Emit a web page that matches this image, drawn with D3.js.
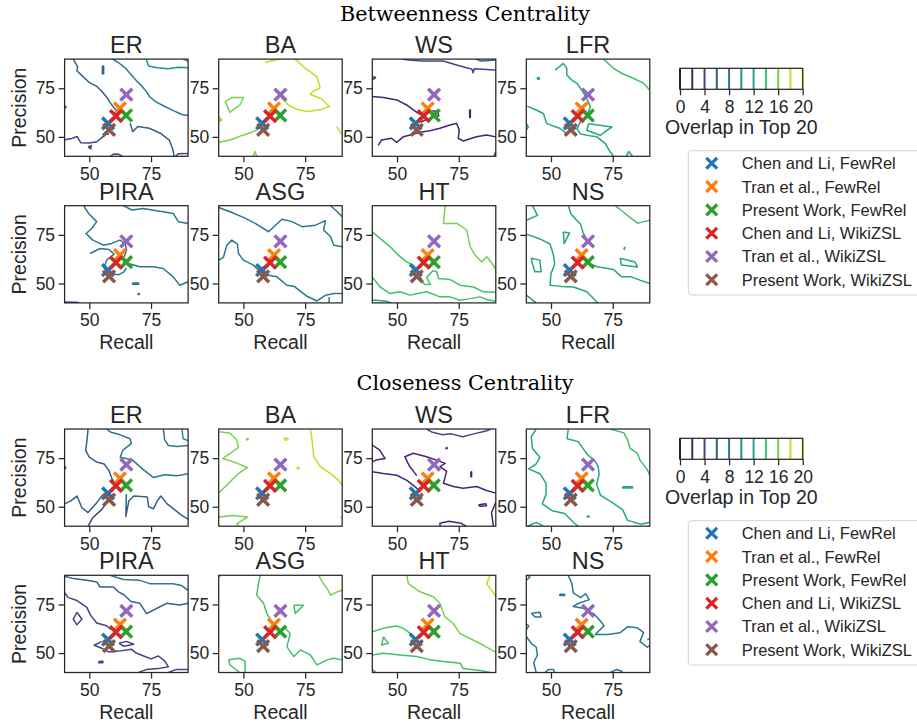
<!DOCTYPE html>
<html>
<head>
<meta charset="utf-8">
<script src="https://cdn.jsdelivr.net/npm/d3@7"></script>
<style>
  body { margin: 0; background: #fff; }
  svg text { font-family: "Liberation Sans", Arial, sans-serif; fill: #262626; }
  svg text.suptitle { font-family: "DejaVu Serif", "Liberation Serif", serif; fill: #000; }
</style>
</head>
<body>
<div id="chart"></div>
<script>
// ---- data ----
const networks = ["ER", "BA", "WS", "LFR", "PIRA", "ASG", "HT", "NS"];
const methods = ["Chen and Li, FewRel", "Tran et al., FewRel", "Present Work, FewRel",
                 "Chen and Li, WikiZSL", "Tran et al., WikiZSL", "Present Work, WikiZSL"];
const recall = [57.6, 62.4, 64.9, 60.8, 65.0, 58.0];
const precision = [56.9, 64.6, 61.0, 60.7, 71.7, 53.6];
const axisTicks = [50, 75];
const axisRange = [40, 90];
const levels = [0, 2, 4, 6, 8, 10, 12, 14, 16, 18, 20];
const levelTicks = [0, 4, 8, 12, 16, 20];

// contour lines per panel: z = overlap level, p = [recall, precision] points
const betweenness_ER = [
  {z: 4, p: [[40,48.5],[43,49.2],[45,50.2],[46.5,47],[50,46.8],[53,47.5],[55,49.5],[56.5,51.3],[58,51.5]]},
  {z: 4, p: [[49.5,44.8],[50.8,45.5],[50.6,43.8],[49.5,44.8]]},
  {z: 4, p: [[58.5,40],[60,41.2],[62,41],[63.5,40]]},
  {z: 4, p: [[85,40],[86,41.3],[90,41.5]]},
  {z: 4, p: [[40,66],[40.6,65.3],[40,64.6]]},
  {z: 6, p: [[43.5,90],[45.3,86],[45,84],[47,81.5],[50,78],[53,76],[55,73.5],[57,70.5],[58.5,67.5],[60,65],[61.5,63]]},
  {z: 6, p: [[66.5,57],[67.6,52.7],[69.6,55.3],[74.3,54.4],[79,51.7],[82.4,48.3],[83.7,44],[84.4,40]]},
  {z: 6, p: [[55.3,86.5],[55.8,86.5],[55.8,82.5],[55.3,82.5],[55.3,86.5]]},
  {z: 8, p: [[59.5,90],[62,88],[64.5,85.5],[67,82],[69,79],[71,76.5],[73,73.5],[74.5,70.5],[77,68],[80,66],[84,63.5],[87.5,61.5],[90,61]]},
  {z: 10, p: [[73,90],[74,86.5],[77.5,85.5],[82,85],[86,85.8],[90,85.5]]},
  {z: 10, p: [[88,90],[90,88.8]]}
];
const betweenness_BA = [
  {z: 16, p: [[42.6,68.1],[45.3,70.2],[50,70.2],[48.6,66.4],[46.6,64.7],[44.6,62.6],[42.6,68.1]]},
  {z: 16, p: [[40,60.4],[41.2,58.7],[40,57.9]]},
  {z: 16, p: [[40,47.2],[44.6,48.4],[50,51],[53.4,52.4],[55.4,53.6]]},
  {z: 16, p: [[54,40],[54.7,42.5],[55.4,40]]},
  {z: 18, p: [[58.8,88.3],[62.8,89.5],[64.8,90]]},
  {z: 18, p: [[70.9,90],[72.9,87.8],[75,85.3],[77,83.5],[79.7,81],[80.8,76.7],[81,75],[78.3,73.6],[77,71.9],[81.7,69.5],[84.8,65.6],[81,63.9],[75.6,63],[71.6,64.2],[68.2,66.4],[65.5,69.8]]},
  {z: 18, p: [[87.8,55.3],[89.1,52.7],[90,51]]}
];
const betweenness_WS = [
  {z: 2, p: [[40,70.7],[44.5,70.2],[49.9,69],[53.9,66.4],[56.6,63.9],[59.3,61.6],[61,62.5],[63.3,63.3],[66.4,63.3],[66.9,60.9],[64.7,59.9],[62,59],[59.5,57.5]]},
  {z: 2, p: [[42.4,45.6],[43.8,48.4],[47.8,49.3],[49.9,47.2],[52.6,50.1],[55.3,51],[59.3,52.4],[63.3,53.1],[67.4,54.4],[70.8,55.8],[74.1,57],[75.2,53.6],[74.8,49.3],[76.8,47.9],[82.2,50.1],[86.3,51],[90,50]]},
  {z: 2, p: [[89.3,40],[90,42.5]]},
  {z: 2, p: [[79.4,64],[79.7,64],[79.7,60],[79.4,60],[79.4,64]]},
  {z: 2, p: [[40,81],[41.3,80.5],[40,79.3]]},
  {z: 4, p: [[52,90],[54.6,89.5],[60.6,89],[68.7,89],[74.1,87],[78.9,85.3],[80.3,84.9],[80.8,83],[81.3,85],[82.9,84.9],[89.7,84.4],[90,84.4]]},
  {z: 6, p: [[82,90],[84,89],[90,89.5]]}
];
const betweenness_LFR = [
  {z: 12, p: [[51.7,84.3],[55,87.8],[56.4,85.2],[56.4,81.8],[58.4,79.2],[60.5,77.5],[62.5,74],[64.5,69.7],[65.9,65.4],[64.5,61],[62,58],[60.5,54],[62,51.5],[66,50.5],[68.6,50],[72,46.5],[74,42.2],[75.4,40]]},
  {z: 12, p: [[40.4,65.8],[44.2,63.7],[46.9,62],[48.3,56.8],[53.7,54.3],[56.4,51.7]]},
  {z: 12, p: [[65.2,56.8],[74.7,55.1],[69.9,50.8],[64.5,53.4],[65.2,56.8]]},
  {z: 12, p: [[44.5,80.6],[45.3,80.4],[45.2,79.6],[44.5,79.7],[44.5,80.6]]},
  {z: 12, p: [[80.5,40],[81.5,42.5],[83,40]]},
  {z: 12, p: [[40,57],[40.8,55],[40,53.5]]},
  {z: 14, p: [[71.3,90],[75.4,85.2],[78.8,82.6],[83.5,80],[87.6,77.5],[90,74]]}
];
const betweenness_PIRA = [
  {z: 8, p: [[47.7,90],[49.7,86],[53,81.8],[51,78.3],[48.7,75.7],[51.4,72.3],[55.7,69.7],[59.1,70.6],[62.4,72.3],[64.5,70.6],[65.1,67.1],[63.8,62.9],[65.8,60.3],[70.5,58.6],[75.9,58.6],[79.9,57.7],[84,53.4],[86.6,49.1],[90,50.9]]},
  {z: 8, p: [[50.3,65.4],[54.4,68],[58,67.5],[60,65],[57,62],[56,58],[58.5,55],[62,54.5],[64,56],[65,58]]},
  {z: 8, p: [[63.8,90],[67.2,87.8],[71.9,88.6],[77.2,87.4],[79.9,86.9],[84,86],[86,81.8],[90,80.9]]},
  {z: 8, p: [[67.5,50.2],[70,50.2],[70,49.6],[67.5,49.6],[67.5,50.2]]},
  {z: 8, p: [[69.7,44.8],[70.3,44.8],[70.3,44.3],[69.7,44.3],[69.7,44.8]]},
  {z: 6, p: [[40,40.4],[45,40.3],[46,40]]}
];
const betweenness_ASG = [
  {z: 8, p: [[40,89.1],[44.6,86.9],[50,84],[54.8,80.9],[60.2,76.6],[65.6,83],[69.7,81.8],[73.7,79.2],[79.2,80],[83.2,82.3],[82.5,77.5],[85.3,74],[86.6,69.7],[90,68.9]]},
  {z: 8, p: [[85.3,90],[88,86.9],[90,84.3]]},
  {z: 8, p: [[40,62],[41.9,63.4],[43.3,69.7],[45.3,72.3],[47.6,70.2],[48,65.4],[50,62],[54.1,59.4],[56.1,56.8],[58.2,58.6],[57.5,56],[59.5,54.3],[63.6,53.4],[67.6,49.1],[70.4,48.6],[75.8,43.4],[79.8,41],[83.2,43.9],[86.6,44.8],[90,44.8]]},
  {z: 8, p: [[84.6,40],[84.8,43]]}
];
const betweenness_HT = [
  {z: 14, p: [[40,76.6],[43.1,73.2],[47.2,68.9],[50.5,64.6],[53.9,61.1],[56.6,59.4],[58.6,56],[60,52],[61,49.5],[63.5,49.5],[62,53],[64.5,56.5],[66.1,56],[66.8,52.5],[71.5,52],[75.5,49.1],[80.9,48.2],[85,45.7],[90,45.5]]},
  {z: 14, p: [[40,53.4],[43.1,48.2],[47.2,44.8],[51.2,45.7],[55.3,44],[62,45.7],[67.4,43.1],[71.5,43.1],[75.5,41.4],[79.6,42.2],[83.6,43.1],[87,41.5],[90,40.8]]},
  {z: 16, p: [[69.5,90],[68.8,80.9],[74.2,80.9],[78.2,77.5],[79.6,68.9],[81.6,64.6],[84.3,61.1],[86.4,63.7],[89,59.4],[90,56.8]]},
  {z: 12, p: [[40,41.5],[45,41],[48,40]]}
];
const betweenness_NS = [
  {z: 12, p: [[40,82.5],[44.5,85],[42.5,90]]},
  {z: 12, p: [[40,75.4],[45.5,72.9],[49.6,70.3],[50.9,65.2],[51.5,60],[50,55],[49.6,49.1],[54,48.5],[59.1,48.2],[64.5,45.7],[68.6,40.5],[69,40]]},
  {z: 12, p: [[57,90],[58,86],[60,83],[62,80.5],[63,76],[64,74]]},
  {z: 12, p: [[66,60],[69,58.5],[72,58],[75.5,57],[78.5,53.5],[82.5,53.4],[86,51.7],[90,50]]},
  {z: 12, p: [[42,63],[45.5,62],[46,56],[43.5,56],[42.5,60],[42,63]]},
  {z: 12, p: [[55,76.5],[57.5,76],[55.3,70.5],[55,76.5]]},
  {z: 12, p: [[78,63],[84,61],[85,58.5],[78.5,59.5],[78,63]]},
  {z: 12, p: [[79.5,68.5],[79.9,68.5],[79.7,67.5],[79.5,68.5]]},
  {z: 14, p: [[76,90],[79,87],[82,84],[85,81],[87.5,81.8],[90,82.5]]},
  {z: 10, p: [[40,44],[42,42],[44,40]]}
];

const closeness_ER = [
  {z: 6, p: [[49.5,90],[49,83.5],[48.5,79],[50,75.5],[53,73],[56,72],[58,68.5],[59,65],[60,62.5]]},
  {z: 6, p: [[40,51.5],[42.5,53],[45,55.5],[47,49.5],[49.5,47],[53,52],[55,55.5],[57,57]]},
  {z: 6, p: [[65,56.5],[64.8,45],[66,53],[68,55.5],[73.5,55],[74,50],[76,49],[77.5,53],[79,55.5],[81.5,51.5],[84,49],[87,46],[90,43.5]]},
  {z: 4, p: [[49.5,40],[51.5,44.5],[55,48.5],[57,52]]},
  {z: 4, p: [[40,71],[40.6,69.5]]},
  {z: 8, p: [[57,90],[58.5,88.5],[62.5,87],[66.5,85],[67,82.5],[63.5,79],[62.5,75.5],[67.5,74],[72,69],[76,65],[80.5,66.5],[85.5,66],[90,67]]},
  {z: 8, p: [[80,90],[80.5,84.5],[82,81.5],[85.5,81],[90,81.5]]},
  {z: 10, p: [[87.5,90],[88,85],[90,84]]}
];
const closeness_BA = [
  {z: 16, p: [[40.5,88.6],[44.6,87.8],[47.3,84.3],[48,80.5],[44.6,77.4],[41.6,74.8],[46,73.1],[51.6,70.2],[48,67.1],[44.6,62.8],[40,57.1]]},
  {z: 16, p: [[40,44.7],[46,45.5],[51.6,44.7],[47.3,41.2],[48,40]]},
  {z: 16, p: [[51.2,85],[51.9,85],[51.9,84.5],[51.2,84.5],[51.2,85]]},
  {z: 18, p: [[66.3,84.8],[67.2,85.5],[68.1,84.8],[67.2,84.2],[66.3,84.8]]},
  {z: 18, p: [[71.5,69.9],[72.4,70.3],[72.6,69.4],[71.5,69.9]]},
  {z: 18, p: [[77.1,90],[77.8,84.3],[78.5,75.7],[81.2,70.5],[85.3,67.1],[88.6,63.6],[90,61]]},
  {z: 18, p: [[89.4,45],[90,44]]}
];
const closeness_WS = [
  {z: 2, p: [[40,81.7],[43,79.1],[45.2,74.8],[41.5,74],[40,73.1]]},
  {z: 2, p: [[40,68],[44.5,67.1],[49.9,66.2],[54,63.6],[56.6,61],[59,58.5]]},
  {z: 2, p: [[58,66],[55,71],[53.2,75.7],[56.6,77.5],[62,75.7],[66,74],[69.5,72.3],[67.4,70.7],[70.1,68.2],[68.8,62.1],[72.8,60.4],[76.8,59.5],[82.3,60.4],[86,58.5],[90,57]]},
  {z: 2, p: [[67.4,40],[67.4,41.5],[71,42.5],[76,41.5],[78,40]]},
  {z: 2, p: [[83,51],[86,51.5],[86.3,50.5],[83.5,50.3],[83,51]]},
  {z: 2, p: [[90,52.5],[88.3,47],[89,40]]},
  {z: 2, p: [[69.8,80.4],[70.3,80.4],[70.3,80],[69.8,80],[69.8,80.4]]},
  {z: 2, p: [[79.9,68],[80.2,68],[80.2,65.5],[79.9,65.5],[79.9,68]]},
  {z: 4, p: [[62,90],[64,88.5],[68.5,87],[72,87.5],[76.5,86],[81,87.5],[86,89],[88,90]]}
];
const closeness_LFR = [
  {z: 12, p: [[44,90],[42,86],[42.5,80],[45.5,75.5],[44,72],[41,69.5],[45.5,67],[48,62],[48,56.5],[46.5,51.5],[50.5,48],[55.5,46.5],[59.5,41.5],[61,40]]},
  {z: 12, p: [[57,90],[56.5,85],[61,83.5],[63.5,79],[65,76.5],[67.5,74],[69,71],[69.5,67],[68.5,61.5],[70,56],[75,52],[79,48.5],[81,43],[86.5,41],[90,42]]},
  {z: 12, p: [[79,60.3],[83,60.3],[83,59.7],[79,59.7],[79,60.3]]},
  {z: 12, p: [[64.7,45.3],[65.4,45.3],[65.4,44.7],[64.7,44.7],[64.7,45.3]]},
  {z: 12, p: [[40.5,40],[44,42],[47,40]]},
  {z: 14, p: [[74,90],[79.5,88],[81,84.5],[82,80],[85,77.5],[86,74],[89,69],[90,66]]}
];
const closeness_PIRA = [
  {z: 4, p: [[40,81],[41.5,78.5],[45,77],[49,73.5],[50.5,69.5],[53,65.5],[57,64],[59,62]]},
  {z: 4, p: [[55,56],[52,54],[55,52.5],[58,50.5],[62,51],[67,52],[69,50],[72,48.5],[75,47],[78,48.5],[80.5,46],[82,43],[78,42],[73,41.5],[70,40]]},
  {z: 4, p: [[82,40],[85,41.5],[90,41.5]]},
  {z: 4, p: [[45,71],[47,67.5],[45,64.5],[43.5,67.5],[45,71]]},
  {z: 4, p: [[53.8,45.6],[55.5,45.8],[55.5,45],[53.8,45],[53.8,45.6]]},
  {z: 4, p: [[62,55],[65,56],[68,54.5],[64,53.5],[62,55]]},
  {z: 6, p: [[40,89.5],[43.6,88.3],[49,87.4],[53,86.6],[54.4,84],[59.8,84],[61.8,81.5],[64,80],[66.9,76.5],[70.5,75.6],[73.2,70.3],[77.2,72.9],[81.3,75.6],[86.6,74.7],[90,75.6]]},
  {z: 8, p: [[58.4,90],[63.8,87.8],[70.5,87.4],[74.5,85.7],[78.6,85.7],[84,85.7],[87.3,84.8],[90,82.2]]}
];
const closeness_ASG = [
  {z: 14, p: [[56.8,90],[56.1,85.7],[55.4,79.8],[58.2,75.5],[59.5,70.4],[61.5,66.1]]},
  {z: 14, p: [[66.3,63.5],[69,60.1],[67.6,53.3],[70.4,48.2],[73.1,51.6],[77.1,49],[79.8,43.9],[83.9,46.5],[86.6,47.3],[90,46.5]]},
  {z: 14, p: [[70.4,74.6],[74.4,74.6],[71,70.4],[70.4,74.6]]},
  {z: 14, p: [[48.5,40],[44.5,44],[44,46.5],[48.7,47.3],[50.7,45.6],[50.7,40]]},
  {z: 14, p: [[40,89.2],[40.8,90]]},
  {z: 16, p: [[80.5,90],[81.9,86.6],[83.9,83.2],[85.3,79.8],[88,81.5],[90,82.3]]}
];
const closeness_HT = [
  {z: 16, p: [[54,90],[54.6,85.7],[59.3,81.5],[64.7,79],[67.4,75.5],[69.4,68.6],[72.8,65.2],[75.5,60],[79.6,57.5],[85,54],[89.7,50.6],[90,50.4]]},
  {z: 14, p: [[40,61],[45.8,63.2],[49.9,63.9],[52.6,62.7],[55.3,60.1],[57,57]]},
  {z: 14, p: [[44.5,58.4],[46.5,55],[43.8,54.2],[44.5,58.4]]},
  {z: 14, p: [[40,49],[44.5,49.9],[51.2,49],[58,48.2],[63.4,46.5],[68.9,45.6],[75.6,44.8],[76.8,42],[83.6,41],[87.7,40]]},
  {z: 12, p: [[40,41.5],[41.5,40]]},
  {z: 18, p: [[87.7,90],[86.3,85.7],[89.7,79.7],[90,79]]}
];
const closeness_NS = [
  {z: 8, p: [[57,90],[58.5,85.5],[59,81],[62,78.5],[64,80.5],[65.5,77.5],[61,75.5],[59,74],[63,73],[67.5,70],[70,66.5],[71.5,64],[69,61],[68,59.5],[73,59.5],[78,60.5],[81,63.5],[85,63],[87.5,60.5],[86,56],[89,53],[90,54]]},
  {z: 8, p: [[40,58.5],[42,55],[44,53],[44.5,49],[43,45],[44,40]]},
  {z: 8, p: [[40,87.5],[41.5,89],[40.5,90]]},
  {z: 8, p: [[40,65],[41,64],[40,62]]},
  {z: 8, p: [[42,70.5],[45.5,71],[46,68.5],[43.5,68.5],[42,70.5]]},
  {z: 8, p: [[53.5,80.2],[55.5,80.2],[55.5,79.6],[53.5,79.6],[53.5,80.2]]},
  {z: 8, p: [[47.5,40],[49,41.5],[51,41.5],[51.5,40]]},
  {z: 8, p: [[74,40],[76.5,41.5],[79,40.5]]},
  {z: 8, p: [[89,57],[90,57.3]]}
];

// tables built from the arrays above
const betweenness = [betweenness_ER, betweenness_BA, betweenness_WS, betweenness_LFR,
                     betweenness_PIRA, betweenness_ASG, betweenness_HT, betweenness_NS];
const closeness = [closeness_ER, closeness_BA, closeness_WS, closeness_LFR,
                   closeness_PIRA, closeness_ASG, closeness_HT, closeness_NS];

// ---- style / layout ----
const palette = ["#1f77b4", "#ff7f0e", "#2ca02c", "#d62728", "#9467bd", "#8c564b"];
const W = 917, H = 727;
const colLeft = [64.6, 218.7, 372.3, 526.3];
const panelW = 123.5, panelH = 97.2;
const groups = [
  {title: "Betweenness Centrality", titleY: 21, titleLen: 250, rows: [59.1, 205.7], cbTop: 68.3, legendTop: 150.7, data: betweenness},
  {title: "Closeness Centrality", titleY: 390, titleLen: 217, rows: [429, 575.3], cbTop: 438.3, legendTop: 520.7, data: closeness}
];

const levelColor = d3.scaleSequential(d3.interpolateViridis).domain([0, 20]);
const xMark = s => `M${-s},${-s}L${s},${s}M${-s},${s}L${s},${-s}`;
const edge = "#262626";

const svg = d3.select("#chart").append("svg")
  .attr("width", W).attr("height", H)
  .attr("viewBox", `0 0 ${W} ${H}`);

svg.append("defs").append("clipPath").attr("id", "panelClip")
  .append("rect").attr("width", panelW).attr("height", panelH);

const x = d3.scaleLinear().domain(axisRange).range([0, panelW]);
const y = d3.scaleLinear().domain(axisRange).range([panelH, 0]);
const line = d3.line().x(d => x(d[0])).y(d => y(d[1]));

function styleAxis(g) {
  g.select(".domain").remove();
  g.selectAll(".tick line").attr("stroke", edge).attr("stroke-width", 1.25);
  g.selectAll(".tick text").style("font-size", "17.5px");
}

function drawPanel(left, top, name, contours, showY, showX) {
  const g = svg.append("g").attr("transform", `translate(${left},${top})`);

  g.append("g").attr("clip-path", "url(#panelClip)")
    .selectAll("path").data(contours).join("path")
    .attr("d", c => line(c.p))
    .attr("fill", "none")
    .attr("stroke", c => levelColor(c.z))
    .attr("stroke-width", 1.5)
    .attr("stroke-linejoin", "round");

  g.append("g").selectAll("path").data(methods).join("path")
    .attr("transform", (d, i) => `translate(${x(recall[i])},${y(precision[i])})`)
    .attr("d", xMark(5.9))
    .attr("stroke", (d, i) => palette[i])
    .attr("stroke-width", 3.5)
    .attr("fill", "none");

  g.append("rect").attr("width", panelW).attr("height", panelH)
    .attr("fill", "none").attr("stroke", edge).attr("stroke-width", 1.25);

  g.append("g").attr("transform", `translate(0,${panelH})`)
    .call(d3.axisBottom(x).tickValues(axisTicks).tickSize(6).tickPadding(5))
    .call(styleAxis);
  g.append("g")
    .call(d3.axisLeft(y).tickValues(axisTicks).tickSize(6).tickPadding(3.5))
    .call(styleAxis);

  g.append("text").attr("x", panelW / 2).attr("y", -6)
    .attr("text-anchor", "middle").style("font-size", "23.5px").text(name);

  if (showY) {
    g.append("text")
      .attr("transform", `translate(${26 - left},${panelH / 2}) rotate(-90)`)
      .attr("text-anchor", "middle").style("font-size", "19.5px").text("Precision");
  }
  if (showX) {
    g.append("text").attr("x", panelW / 2).attr("y", panelH + 46.5)
      .attr("text-anchor", "middle").style("font-size", "19.5px").text("Recall");
  }
}

function drawColorbar(top) {
  const cbW = 122.7, cbH = 21;
  const cx = d3.scaleLinear().domain([0, 20]).range([0, cbW]);
  const g = svg.append("g").attr("transform", `translate(680,${top})`);
  g.append("rect").attr("width", cbW).attr("height", cbH).attr("fill", "#fff");
  g.selectAll("line.level").data(levels).join("line")
    .attr("class", "level")
    .attr("x1", d => cx(d)).attr("x2", d => cx(d))
    .attr("y1", 0).attr("y2", cbH)
    .attr("stroke", d => levelColor(d)).attr("stroke-width", 2);
  g.append("rect").attr("width", cbW).attr("height", cbH)
    .attr("fill", "none").attr("stroke", edge).attr("stroke-width", 1.25);
  g.append("g").attr("transform", `translate(0,${cbH})`)
    .call(d3.axisBottom(cx).tickValues(levelTicks).tickSize(6).tickPadding(5))
    .call(styleAxis);
  g.append("text").attr("x", cbW / 2).attr("y", cbH + 45)
    .attr("text-anchor", "middle").style("font-size", "19.5px").text("Overlap in Top 20");
}

function drawLegend(top) {
  const g = svg.append("g").attr("transform", `translate(688.3,${top})`);
  g.append("rect").attr("width", 240).attr("height", 144.3).attr("rx", 3)
    .attr("fill", "#fff").attr("stroke", "#d3d3d3").attr("stroke-width", 1);
  const row = g.selectAll("g.entry").data(methods).join("g")
    .attr("class", "entry")
    .attr("transform", (d, i) => `translate(0,${12.6 + i * 23.3})`);
  row.append("path").attr("transform", "translate(23.4,0)")
    .attr("d", xMark(5.4))
    .attr("stroke", (d, i) => palette[i]).attr("stroke-width", 3.3).attr("fill", "none");
  row.append("text").attr("x", 53.4).attr("dy", "0.36em")
    .style("font-size", "16.5px").text(d => d);
}

groups.forEach(grp => {
  svg.append("text").attr("class", "suptitle")
    .attr("x", 465).attr("y", grp.titleY)
    .attr("text-anchor", "middle")
    .style("font-size", "20px")
    .attr("textLength", grp.titleLen).attr("lengthAdjust", "spacingAndGlyphs")
    .text(grp.title);

  networks.forEach((name, i) => {
    const r = Math.floor(i / 4), c = i % 4;
    drawPanel(colLeft[c], grp.rows[r], name, grp.data[i], c === 0, r === 1);
  });
  drawColorbar(grp.cbTop);
  drawLegend(grp.legendTop);
});
</script>
</body>
</html>
